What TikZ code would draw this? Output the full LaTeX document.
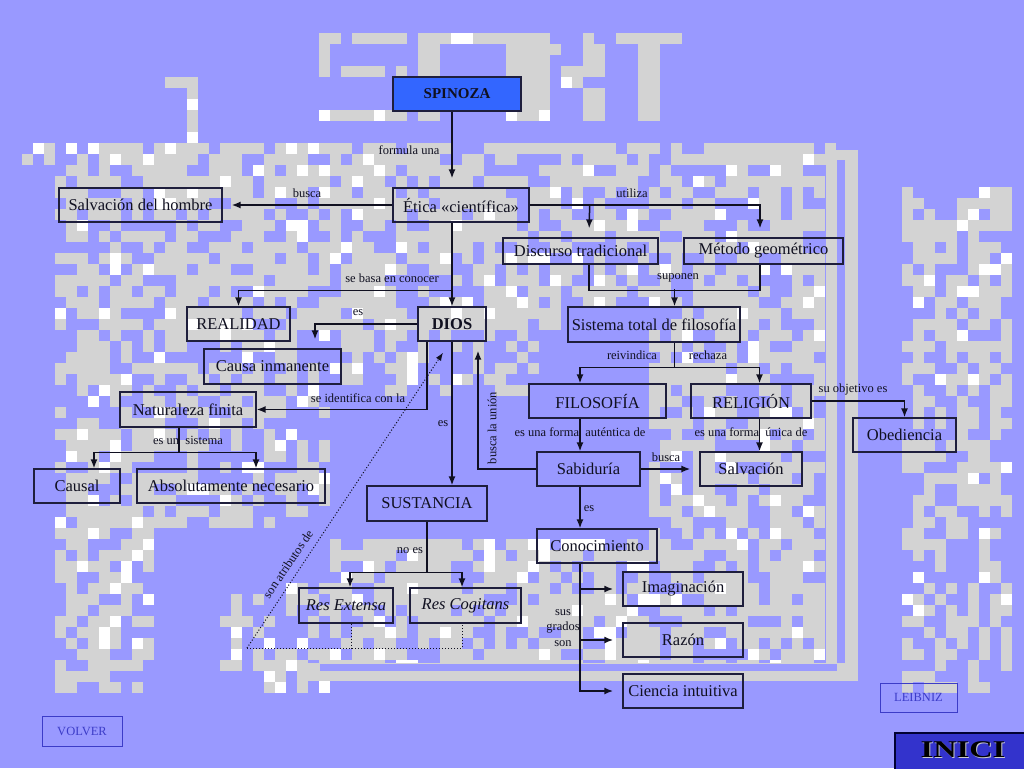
\documentclass[tikz,border=0pt]{standalone}
\usepackage{fontspec}
\setmainfont{Liberation Serif}
\usetikzlibrary{arrows.meta,calc}
\definecolor{bgblue}{HTML}{9999FF}
\definecolor{bggray}{HTML}{D3D3D3}
\definecolor{boxc}{HTML}{1E1E3C}
\definecolor{linec}{HTML}{101020}
\definecolor{txt}{HTML}{101020}
\definecolor{spin}{HTML}{3366FF}
\definecolor{inic}{HTML}{3333CC}
\definecolor{navlink}{HTML}{3C3CC8}
\newcommand\bgzone[5]{%
  \foreach \ci in {#1,...,#3}{%
    \foreach \cj in {#2,...,#4}{%
      \pgfmathrandominteger{\myrnd}{1}{100}%
      \ifnum\myrnd<#5\relax
        \fill[bggray] (\ci*11,\cj*11) rectangle ++(11,11);%
      \else
        \ifnum\myrnd<\numexpr#5+7\relax
          \fill[white] (\ci*11,\cj*11) rectangle ++(11,11);%
        \fi
      \fi}}}
\tikzset{
  box/.style={draw=boxc, line width=1.3pt, inner sep=0pt, text=txt,
    font=\fontsize{16.5}{19}\selectfont},
  lbl/.style={inner sep=0pt, text=txt, font=\fontsize{12.5}{14}\selectfont},
  arr/.style={draw=linec, line width=1.5pt, -{Latex[length=9pt,width=7pt]}},
  ln/.style={draw=linec, line width=1.5pt},
  gap/.style={shorten >=9pt},
  navbox/.style={draw=navlink, line width=1pt, text=navlink, inner sep=0pt,
    font=\fontsize{12.5}{14}\selectfont},
}
\begin{document}
\begin{tikzpicture}[x=1pt,y=-1pt]
\useasboundingbox (0,0) rectangle (1024,768);
\fill[bgblue] (0,0) rectangle (1024,768);
\pgfmathsetseed{4711}
% ---- background pixel pattern ----
% top letters
\bgzone{29}{3}{36}{3}{85}\bgzone{29}{3}{29}{6}{85}\bgzone{29}{6}{36}{6}{85}
\bgzone{36}{6}{36}{10}{85}\bgzone{29}{10}{36}{10}{85}
\bgzone{38}{3}{47}{3}{85}\bgzone{38}{3}{39}{10}{85}\bgzone{46}{3}{47}{10}{85}\bgzone{38}{7}{47}{7}{85}
\bgzone{48}{3}{49}{10}{85}\bgzone{53}{3}{54}{10}{85}\bgzone{50}{4}{50}{5}{85}\bgzone{51}{6}{52}{7}{85}
\bgzone{56}{3}{61}{3}{88}\bgzone{58}{3}{59}{10}{88}
\bgzone{17}{7}{17}{14}{88}\bgzone{15}{7}{18}{8}{50}
% band
\bgzone{2}{13}{75}{14}{72}
% central masses
\bgzone{14}{15}{50}{29}{64}
\bgzone{51}{15}{74}{27}{52}
\bgzone{5}{15}{13}{62}{55}
\bgzone{14}{30}{29}{47}{48}
\bgzone{30}{30}{48}{35}{42}
\bgzone{30}{49}{74}{60}{66}
\bgzone{20}{53}{29}{62}{35}
\bgzone{59}{27}{74}{48}{58}
\bgzone{82}{17}{91}{62}{52}
% frame
\fill[bggray] (826,150) rectangle (858,681);
\fill[bgblue] (837,160) rectangle (845,672);
\fill[bggray] (300,663) rectangle (858,681);
\fill[bgblue] (320,664) rectangle (837,671);
% ---- nodes ----
\node[box, fill=spin, minimum width=128pt, minimum height=34pt,
  font=\bfseries\fontsize{15}{17}\selectfont] (spinoza) at (457,94) {SPINOZA};
\node[box, minimum width=136pt, minimum height=34pt] (etica) at (461,205) {Ética «científica»};
\node[box, minimum width=163pt, minimum height=34pt] (salv) at (140.5,205) {Salvación del hombre};
\node[box, minimum width=155pt, minimum height=26pt] (disc) at (580.5,251) {Discurso tradicional};
\node[box, minimum width=159pt, minimum height=26pt] (metodo) at (763.5,251) {Método geométrico};
\node[box, minimum width=103pt, minimum height=34pt] (realidad) at (238.5,324) {REALIDAD};
\node[box, minimum width=68pt, minimum height=34pt,
  font=\bfseries\fontsize{16.5}{19}\selectfont] (dios) at (452,324) {DIOS};
\node[box, minimum width=172pt, minimum height=35pt] (sistema) at (654,324.5) {Sistema total de filosofía};
\node[box, minimum width=137pt, minimum height=35pt] (causa) at (272.5,366.5) {Causa inmanente};
\node[box, minimum width=136pt, minimum height=35pt] (natur) at (188,409.5) {Naturaleza finita};
\node[box, minimum width=86pt, minimum height=34pt] (causal) at (77,486) {Causal};
\node[box, minimum width=188pt, minimum height=34pt] (absol) at (231,486) {Absolutamente necesario};
\node[box, minimum width=120pt, minimum height=35pt] (sust) at (427,503.5) {SUSTANCIA};
\node[box, minimum width=94pt, minimum height=35pt] (resext) at (346,605.5) {\itshape Res Extensa};
\node[box, minimum width=111pt, minimum height=35pt] (rescog) at (465.5,605.5) {\itshape Res Cogitans};
\node[box, minimum width=137pt, minimum height=34pt] (filo) at (597.5,401) {FILOSOFÍA};
\node[box, minimum width=120pt, minimum height=34pt] (reli) at (751,401) {RELIGIÓN};
\node[box, minimum width=103pt, minimum height=34pt] (obed) at (904.5,435) {Obediencia};
\node[box, minimum width=103pt, minimum height=34pt] (sabi) at (588.5,469) {Sabiduría};
\node[box, minimum width=102pt, minimum height=34pt] (salvacion) at (751,469) {Salvación};
\node[box, minimum width=120pt, minimum height=34pt] (conoc) at (597,546) {Conocimiento};
\node[box, minimum width=120pt, minimum height=34pt] (imag) at (683,589) {Imaginación};
\node[box, minimum width=120pt, minimum height=34pt] (razon) at (683,640) {Razón};
\node[box, minimum width=120pt, minimum height=34pt] (ciencia) at (683,691) {Ciencia intuitiva};
\node[navbox, minimum width=77pt, minimum height=29pt] (leibniz) at (918.5,697.5) {LEIBNIZ};
\node[navbox, minimum width=80pt, minimum height=30pt] (volver) at (82,731) {VOLVER};
\node[draw=black!80!blue, fill=inic, line width=1.5pt, minimum width=134pt,
  minimum height=38pt] (inici) at (962,752) {};
\node[font=\bfseries\fontsize{24}{26}\selectfont, xscale=1.35, text=gray!40,
  inner sep=0pt] (inicish) at (964,751) {INICI};
\node[font=\bfseries\fontsize{24}{26}\selectfont, xscale=1.35, text=black,
  inner sep=0pt] (inicit) at (963,750) {INICI};
% ---- connectors ----
\draw[arr,gap] (spinoza.south -| dios.north) -- (etica.north -| dios.north);
\draw[arr,gap] (etica.west) -- (salv.east);
\draw[arr,gap] (etica.east) -| ([xshift=-3.5pt]metodo.north);
\draw[arr,gap] ([xshift=60pt]etica.east) -- ([xshift=8.5pt]disc.north);
\draw[arr] (etica.south -| dios.north) -- (dios.north);
\draw[arr] ([yshift=-68pt]etica.south -| dios.north) -| (realidad.north);
\draw[ln] ([xshift=8.5pt]disc.south) -- ++(0,26) -| ([xshift=-3.5pt]metodo.south);
\draw[arr] ([xshift=20.5pt,yshift=17pt]sistema.north) -- ([xshift=20.5pt]sistema.north);
\draw[arr] (dios.west) -| ([xshift=42.5pt,yshift=9pt]causa.north);
\draw[arr] ([xshift=-25pt]dios.south) |- (natur.east);
\draw[arr] (dios.south) -- (dios.south |- sust.north);
\draw[arr] (sabi.west) -| ([xshift=26pt,yshift=-9pt]dios.south);
\coordinate (attr) at (247,648);
\draw[draw=linec, line width=1pt, dotted, -{Latex[length=8pt,width=6pt]}] (attr) -- ([xshift=-9pt,yshift=-11pt]dios.south);
\draw[draw=linec, line width=1pt, dotted] (attr) -| ([xshift=-3.5pt]rescog.south);
\draw[draw=linec, line width=1pt, dotted] ([xshift=5pt]resext.south) -- ++(0,25);
\draw[ln] ([xshift=-9pt]natur.south) -- ++(0,25) coordinate (nb);
\draw[arr] (nb) -| ([xshift=17pt]causal.north);
\draw[arr] (nb) -| ([xshift=25pt]absol.north);
\draw[ln] (sust.south) -- ++(0,51) coordinate (sb);
\draw[arr] (sb) -| ([xshift=4pt]resext.north);
\draw[arr] (sb) -| ([xshift=-3.5pt]rescog.north);
\draw[ln] ([xshift=20.5pt]sistema.south) -- ++(0,25) coordinate (sysb);
\draw[arr] (sysb) -| ([xshift=-17.5pt]filo.north);
\draw[arr] (sysb) -| ([xshift=8.5pt]reli.north);
\draw[arr] (reli.east) -| (obed.north);
\draw[arr] ([xshift=-17.5pt]filo.south) -- ([xshift=-8.5pt]sabi.north);
\draw[arr] ([xshift=8.5pt]reli.south) -- ([xshift=8.5pt]salvacion.north);
\draw[arr,gap] (sabi.east) -- (salvacion.west);
\draw[arr] ([xshift=-8.5pt]sabi.south) -- ([xshift=-17pt]conoc.north);
\coordinate (cs) at ([xshift=-17pt]conoc.south);
\draw[arr,gap,line width=1.8pt] (cs) |- (ciencia.west);
\draw[arr,gap,line width=1.8pt] (cs |- imag.west) -- (imag.west);
\draw[arr,gap,line width=1.8pt] (cs |- razon.west) -- (razon.west);
% ---- labels ----
\node[lbl] (l1) at (409,150) {formula una};
\node[lbl] (l2) at (307,193) {busca};
\node[lbl] (l3) at (632,193) {utiliza};
\node[lbl] (l4) at (392,278) {se basa en conocer};
\node[lbl] (l5) at (678,278) {suponen};
\node[lbl] (l6) at (358,313) {es};
\node[lbl] (l7) at (358,398) {se identifica con la};
\node[lbl] (l8) at (443,424) {es};
\node[lbl, rotate=90] (l9) at (492,428) {busca la unión};
\node[lbl, rotate=56] (l10) at (288,564) {son atributos de};
\node[lbl] (l11) at (188,440) {es un\ \ sistema};
\node[lbl] (l12) at (410,551) {no es};
\node[lbl] (l13) at (632,355) {reivindica};
\node[lbl] (l14) at (708,355) {rechaza};
\node[lbl] (l15) at (853,389) {su objetivo es};
\node[lbl] (l16) at (580,432) {es una forma\ \ auténtica de};
\node[lbl] (l17) at (751,432) {es una forma\ \ única de};
\node[lbl] (l18) at (666,457) {busca};
\node[lbl] (l19) at (589,509) {es};
\node[lbl, align=center, font=\fontsize{12.5}{15.5}\selectfont] (l20) at (563,628) {sus\\grados\\son};
\end{tikzpicture}
\end{document}
